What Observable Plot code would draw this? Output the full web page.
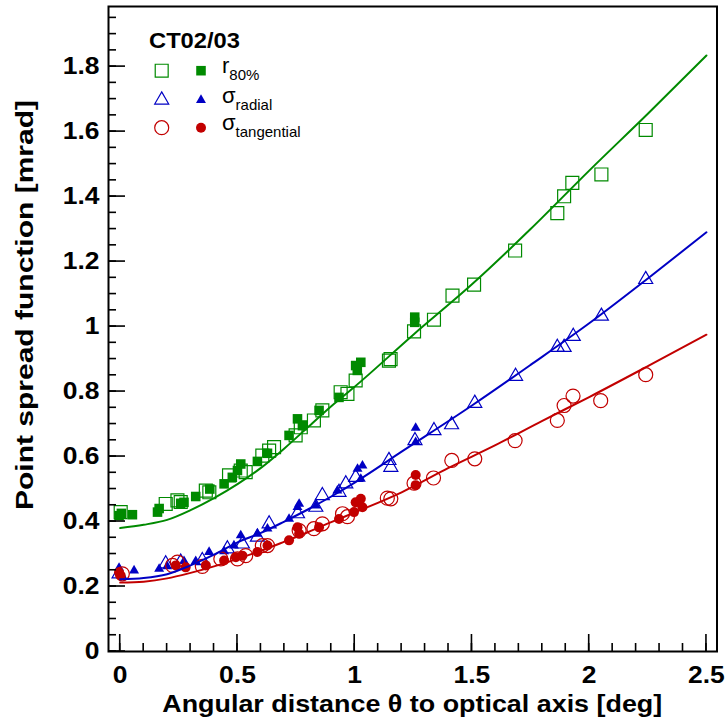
<!DOCTYPE html>
<html>
<head>
<meta charset="utf-8">
<script src="https://cdn.jsdelivr.net/npm/d3@7"></script>
<script src="https://cdn.jsdelivr.net/npm/@observablehq/plot@0.6"></script>
<style>
  html, body { margin: 0; padding: 0; background: #fff; }
  #chart svg { display: block; }
</style>
</head>
<body>
<div id="chart"></div>
<script>
// ---------- data ----------
const xTicks = [0, 0.5, 1, 1.5, 2, 2.5];
const xTickLabels = ["0", "0.5", "1", "1.5", "2", "2.5"];
const yTicks = [0, 0.2, 0.4, 0.6, 0.8, 1.0, 1.2, 1.4, 1.6, 1.8];
const yTickLabels = ["0", "0.2", "0.4", "0.6", "0.8", "1", "1.2", "1.4", "1.6", "1.8"];

// r80% (green squares): open / filled
const r80Open = [[0.002,0.429],[0.194,0.454],[0.244,0.465],[0.258,0.46],[0.365,0.495],[0.38,0.49],[0.464,0.542],[0.514,0.557],[0.535,0.552],[0.606,0.603],[0.635,0.618],[0.656,0.629],[0.748,0.665],[0.77,0.69],[0.826,0.711],[0.862,0.742],[0.94,0.798],[0.969,0.793],[1.004,0.834],[1.146,0.895],[1.153,0.9],[1.253,0.985],[1.338,1.021],[1.417,1.095],[1.509,1.129],[1.684,1.234],[1.864,1.349],[1.893,1.401],[1.928,1.442],[2.052,1.468],[2.241,1.605]];
const r80Filled = [[-0.005,0.418],[0.005,0.425],[0.052,0.421],[0.159,0.429],[0.166,0.44],[0.258,0.456],[0.272,0.459],[0.322,0.477],[0.382,0.5],[0.443,0.516],[0.478,0.536],[0.5,0.557],[0.514,0.577],[0.585,0.585],[0.628,0.61],[0.72,0.665],[0.756,0.716],[0.777,0.695],[0.848,0.742],[0.933,0.782],[1.004,0.88],[1.011,0.865],[1.026,0.89],[1.256,1.029],[1.256,1.013]];

// sigma radial (blue triangles): open / filled
const radialOpen = [[-0.005,0.239],[0.194,0.27],[0.258,0.275],[0.35,0.28],[0.457,0.316],[0.521,0.331],[0.585,0.352],[0.635,0.393],[0.756,0.424],[0.834,0.444],[0.862,0.48],[0.933,0.49],[0.962,0.516],[1.004,0.536],[1.146,0.588],[1.154,0.567],[1.257,0.649],[1.338,0.68],[1.413,0.698],[1.512,0.764],[1.686,0.847],[1.864,0.936],[1.893,0.936],[1.932,0.97],[2.052,1.032],[2.241,1.145]];
const radialFilled = [[-0.005,0.257],[0.059,0.249],[0.166,0.254],[0.2,0.262],[0.272,0.278],[0.322,0.278],[0.379,0.306],[0.443,0.308],[0.485,0.326],[0.514,0.357],[0.585,0.362],[0.628,0.378],[0.72,0.408],[0.756,0.444],[0.763,0.454],[0.834,0.449],[0.926,0.495],[1.012,0.562],[1.026,0.531],[1.033,0.572],[1.26,0.688],[1.26,0.644]];

// sigma tangential (red circles): open / filled
const tangOpen = [[0.009,0.239],[0.223,0.265],[0.244,0.275],[0.35,0.262],[0.429,0.285],[0.5,0.285],[0.535,0.295],[0.606,0.326],[0.628,0.326],[0.763,0.372],[0.826,0.378],[0.862,0.393],[0.948,0.424],[0.969,0.415],[1.139,0.472],[1.154,0.47],[1.253,0.518],[1.336,0.534],[1.414,0.588],[1.512,0.593],[1.684,0.649],[1.864,0.711],[1.893,0.757],[1.931,0.786],[2.049,0.772],[2.241,0.852]];
const tangFilled = [[-0.005,0.244],[0.002,0.234],[0.237,0.265],[0.279,0.259],[0.365,0.265],[0.443,0.28],[0.493,0.29],[0.521,0.295],[0.585,0.306],[0.628,0.326],[0.72,0.342],[0.756,0.382],[0.763,0.362],[0.848,0.382],[0.933,0.408],[0.997,0.429],[1.004,0.459],[1.026,0.47],[1.033,0.444],[1.26,0.543],[1.26,0.512]];

// fitted curves
const r80Fit = [[0,0.38],[0.1,0.39],[0.2,0.405],[0.3,0.435],[0.4,0.472],[0.5,0.515],[0.6,0.565],[0.7,0.625],[0.8,0.69],[0.9,0.755],[1.0,0.815],[1.25,0.975],[1.5,1.13],[1.75,1.3],[2.0,1.48],[2.25,1.655],[2.5,1.834]];
const radialFit = [[0,0.222],[0.1,0.226],[0.2,0.238],[0.3,0.265],[0.4,0.298],[0.5,0.336],[0.6,0.365],[0.7,0.4],[0.8,0.437],[0.9,0.477],[1.0,0.52],[1.2,0.615],[1.5,0.757],[1.75,0.882],[2.0,1.01],[2.25,1.148],[2.5,1.29]];
const tangFit = [[0,0.212],[0.1,0.215],[0.2,0.225],[0.3,0.242],[0.4,0.262],[0.5,0.285],[0.6,0.31],[0.7,0.338],[0.8,0.367],[0.9,0.398],[1.0,0.428],[1.2,0.49],[1.4,0.565],[1.6,0.635],[1.8,0.71],[2.0,0.783],[2.25,0.878],[2.5,0.975]];

const legendTitle = "CT02/03";
const legendLabels = [["r", "80%"], ["σ", "radial"], ["σ", "tangential"]];
const xTitle = "Angular distance θ to optical axis [deg]";
const yTitle = "Point spread function [mrad]";

// ---------- style ----------
const GREEN = "#008a00", BLUE = "#0000c4", RED = "#c20000";
const W = 725, H = 720, ML = 108, MR = 8.5, MT = 6, MB = 69;
const X0 = -0.05, X1 = 2.545, Y0 = 0, Y1 = 1.985;
const frameW = W - ML - MR, frameH = H - MT - MB;
const FONT = "'Liberation Sans', Arial, Helvetica, sans-serif";

const xMinor = d3.range(0, 2.5001, 0.1);
const yMinor = d3.range(0, 1.9501, 0.05);
// pixel -> data unit conversions for the fixed-size tick marks
const ux = (X1 - X0) / frameW, uy = (Y1 - Y0) / frameH;
const TW = 0.8; // half tick thickness in px

// ticks as thin filled rectangles on the bottom / left edges
const xTickRects = (vals, len) => Plot.rect(vals, {x1: d => d - TW * ux, x2: d => d + TW * ux, y1: Y0, y2: Y0 + len * uy, fill: "black", inset: 0});
const yTickRects = (vals, len) => Plot.rect(vals, {y1: d => d - TW * uy, y2: d => d + TW * uy, x1: X0, x2: X0 + len * ux, fill: "black", inset: 0});

const dotsOpen = (data, symbol, r, color) => Plot.dot(data, {x: d => d[0], y: d => d[1], symbol, r, stroke: color, strokeWidth: 1.2, fill: "none"});
const dotsFilled = (data, symbol, r, color) => Plot.dot(data, {x: d => d[0], y: d => d[1], symbol, r, fill: color, stroke: "none"});
const fitLine = (data, color) => Plot.line(data, {x: d => d[0], y: d => d[1], stroke: color, strokeWidth: 2, curve: "monotone-x"});

const chart = Plot.plot({
  width: W, height: H,
  marginLeft: ML, marginRight: MR, marginTop: MT, marginBottom: MB,
  x: {domain: [X0, X1]},
  y: {domain: [Y0, Y1]},
  style: {fontFamily: FONT, fontSize: "23px", fontWeight: "bold", background: "white", color: "black", overflow: "visible"},
  marks: [
    dotsOpen(r80Open, "square", 7.3, GREEN),
    dotsFilled(r80Filled, "square", 5.4, GREEN),
    dotsOpen(radialOpen, "triangle", 5.2, BLUE),
    dotsFilled(radialFilled, "triangle", 3.7, BLUE),
    dotsOpen(tangOpen, "circle", 7, RED),
    dotsFilled(tangFilled, "circle", 5, RED),
    fitLine(r80Fit, GREEN),
    fitLine(radialFit, BLUE),
    fitLine(tangFit, RED),
    xTickRects(xMinor, 8),
    xTickRects(xTicks, 17),
    yTickRects(yMinor, 8),
    yTickRects(yTicks, 17),
    Plot.axisX(xTicks, {tickSize: 0, tickPadding: 15, label: null, tickFormat: d => xTickLabels[xTicks.indexOf(d)]}),
    Plot.axisY(yTicks, {tickSize: 0, tickPadding: 9, label: null, tickFormat: d => yTickLabels[yTicks.indexOf(d)]}),
    Plot.frame({stroke: "black", strokeWidth: 2})
  ]
});
document.getElementById("chart").appendChild(chart);

const svg = d3.select(chart.tagName.toLowerCase() === "svg" ? chart : chart.querySelector("svg"));

// stretch tick labels horizontally (ROOT-like wide bold Helvetica)
svg.selectAll('g[aria-label="x-axis tick label"] text, g[aria-label="y-axis tick label"] text').each(function() {
  const t = this.getAttribute("transform") || "";
  this.setAttribute("transform", t + " scale(1.15,1)");
});

// axis titles
svg.append("text")
  .attr("x", ML + frameW / 2).attr("y", 712)
  .attr("text-anchor", "middle")
  .attr("textLength", 500).attr("lengthAdjust", "spacingAndGlyphs")
  .style("font-family", FONT).style("font-weight", "bold").style("font-size", "23.5px")
  .text(xTitle);
svg.append("text")
  .attr("transform", "translate(33,305) rotate(-90)")
  .attr("text-anchor", "middle")
  .attr("textLength", 410).attr("lengthAdjust", "spacingAndGlyphs")
  .style("font-family", FONT).style("font-weight", "bold").style("font-size", "23.5px")
  .text(yTitle);

// legend
const lg = svg.append("g").attr("text-anchor", "start");
lg.append("text").attr("x", 149).attr("y", 48).attr("text-anchor", "start")
  .attr("textLength", 91).attr("lengthAdjust", "spacingAndGlyphs")
  .style("font-family", FONT).style("font-weight", "bold").style("font-size", "22px")
  .text(legendTitle);
const rows = [
  {y: 70.7, sym: d3.symbolSquare, rOpen: 7.3, rFilled: 5.4, color: GREEN},
  {y: 100, sym: d3.symbolTriangle, rOpen: 5.2, rFilled: 3.7, color: BLUE},
  {y: 127.7, sym: d3.symbolCircle, rOpen: 7, rFilled: 5, color: RED}
];
rows.forEach((row, i) => {
  lg.append("path").attr("transform", `translate(161.7,${row.y})`)
    .attr("d", d3.symbol(row.sym, Math.PI * row.rOpen * row.rOpen)())
    .attr("fill", "none").attr("stroke", row.color).attr("stroke-width", 1.2);
  lg.append("path").attr("transform", `translate(201,${row.y})`)
    .attr("d", d3.symbol(row.sym, Math.PI * row.rFilled * row.rFilled)())
    .attr("fill", row.color);
  const t = lg.append("text").attr("x", 222).attr("y", row.y + 2.5).attr("text-anchor", "start")
    .style("font-family", FONT).style("font-weight", "normal").style("font-size", "22px");
  t.append("tspan").text(legendLabels[i][0]);
  t.append("tspan").attr("dy", 7).style("font-size", "15px").text(legendLabels[i][1]);
});
</script>
</body>
</html>
